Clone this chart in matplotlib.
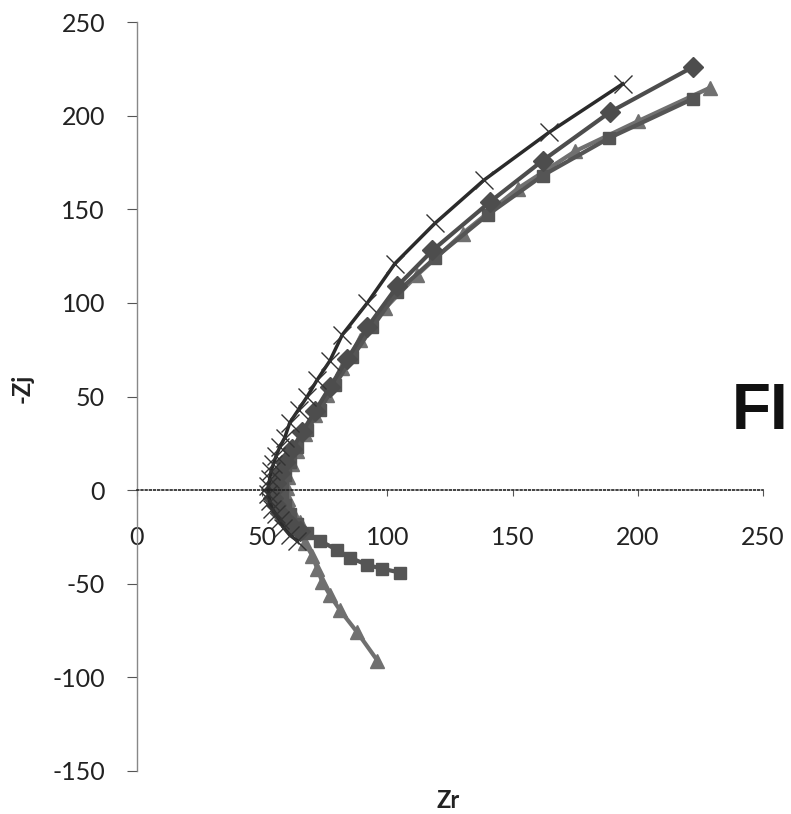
import matplotlib
matplotlib.use("Agg")
import matplotlib.pyplot as plt

plt.rcParams["font.family"] = ["Lato", "DejaVu Sans"]
plt.rcParams["axes.unicode_minus"] = False

# ---- data ----
cross_x = [194, 164.5, 138.5, 119, 103, 92, 82, 77, 72, 68, 64.5, 61, 59, 57, 55.5,
           54.5, 53.5, 53, 52.5, 52.5, 53, 54, 55.5, 57, 58.5, 61, 64]
cross_y = [217, 191, 165.5, 142.5, 121, 100, 83, 69, 59, 50, 43, 36, 28, 23, 18,
           14, 10, 6, 2, -2, -6, -10, -13, -16, -20, -24, -27]

diam_x = [222, 189, 162, 141, 118, 104, 92, 84, 77, 71, 66, 62, 59, 57, 55.5,
          54.5, 54.5, 55.5, 57, 59.5, 62, 65]
diam_y = [226, 202, 176, 154, 128, 109, 87, 70, 55, 42, 31, 22, 15, 9, 4,
          0, -4, -8, -12, -16, -19, -22]

sq_x = [222, 188.5, 162, 140, 119, 104, 94, 86, 79, 73, 68, 64, 61, 59, 58, 58,
        59, 61, 64, 68, 73, 80, 85, 92, 98, 105]
sq_y = [209, 188, 168, 147, 124, 106, 87, 71, 56, 43, 32, 23, 15, 8, 2, -3,
        -8, -13, -18, -23, -27, -32, -36, -40, -42, -44]

tri_x = [229, 200, 175, 152, 130, 112, 99, 89, 82, 76, 71, 67, 64, 62, 60.5, 60,
         60.5, 62, 65, 67, 70, 72, 74, 77, 81, 88, 96]
tri_y = [215, 197, 181, 161, 137, 115, 97, 80, 65, 51, 40, 30, 21, 14, 7, 1,
         -5, -11, -17, -28, -35, -42, -49, -56, -64, -76, -91]

x_ticks = [0, 50, 100, 150, 200, 250]
y_ticks = [-150, -100, -50, 0, 50, 100, 150, 200, 250]

# ---- figure ----
fig = plt.figure(figsize=(7.91, 8.14), dpi=100)
ax = fig.add_axes([137/791, 1-771/814, (763-137)/791, (771-22)/814])

ax.plot(tri_x, tri_y, color="#707070", lw=3, marker="^", ms=10, mfc="#707070", mec="#707070")
ax.plot(sq_x, sq_y, color="#555555", lw=3, marker="s", ms=8, mfc="#555555", mec="#555555")
ax.plot(diam_x, diam_y, color="#4d4d4d", lw=3, marker="D", ms=10, mfc="#4d4d4d", mec="#4d4d4d")
ax.plot(cross_x, cross_y, color="#2a2a2a", lw=2.5, marker="x", ms=13, mew=1.0, mec="#333333")

ax.set_xlim(0, 250)
ax.set_ylim(-150, 250)
ax.set_xticks(x_ticks)
ax.set_yticks(y_ticks)

ax.spines["top"].set_visible(False)
ax.spines["right"].set_visible(False)
ax.spines["bottom"].set_position(("data", 0))
ax.spines["bottom"].set_linestyle((0, (1, 1.5)))
ax.spines["bottom"].set_color("#222222")
ax.spines["bottom"].set_linewidth(1.2)
ax.spines["left"].set_color("#888888")
ax.spines["left"].set_linewidth(1.0)
ax.tick_params(axis="x", direction="out", length=4, pad=22, color="#555555",
               labelsize=18, labelcolor="#222222")
ax.tick_params(axis="y", direction="out", length=7, pad=16, color="#555555",
               labelsize=18, labelcolor="#222222")

fig.text(448/791, 1-800/814, "Zr", fontsize=17, fontweight="bold",
         ha="center", va="center", color="#222222")
fig.text(22/791, 1-388/814, "-Zj", fontsize=17, fontweight="bold",
         ha="center", va="center", rotation=90, color="#222222")
fig.text(789/791, 1-412/814, "FI", fontsize=46, fontweight="bold", family="Liberation Sans",
         ha="right", va="center", color="#111111")

fig.savefig("out.png", dpi=100)
